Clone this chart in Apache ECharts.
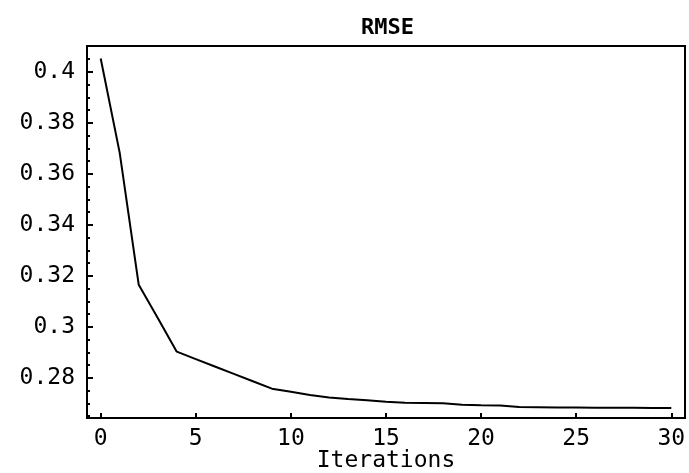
<!DOCTYPE html>
<html>
<head>
<meta charset="utf-8">
<title>RMSE</title>
<script src="https://cdn.jsdelivr.net/npm/echarts@6/dist/echarts.min.js"></script>
<style>
  html, body { margin: 0; padding: 0; background: #fff; }
  #chart { width: 689px; height: 473px; }
</style>
</head>
<body>
<div id="chart"></div>
<script>
  const iterations = [0, 1, 2, 3, 4, 5, 6, 7, 8, 9, 10, 11, 12, 13, 14, 15,
    16, 17, 18, 19, 20, 21, 22, 23, 24, 25, 26, 27, 28, 29, 30]
  const rmse = [0.4052, 0.3682, 0.3165, 0.3035, 0.2903, 0.2874, 0.2845, 0.2816,
    0.2787, 0.2758, 0.2746, 0.2733, 0.2723, 0.2717, 0.2713, 0.2707, 0.2703,
    0.2702, 0.2701, 0.2695, 0.2693, 0.2692, 0.2686, 0.2685, 0.2684, 0.2684,
    0.2683, 0.2683, 0.2683, 0.2682, 0.2682]

  const xTicks = [0, 5, 10, 15, 20, 25, 30]
  const yTicks = [0.28, 0.3, 0.32, 0.34, 0.36, 0.38, 0.4]
  const yMinorTicks = [0.265, 0.27, 0.275, 0.285, 0.29, 0.295, 0.305, 0.31, 0.315,
    0.325, 0.33, 0.335, 0.345, 0.35, 0.355, 0.365, 0.37, 0.375, 0.385, 0.39,
    0.395, 0.405]

  const font = 'DejaVu Sans Mono'

  const chart = echarts.init(document.getElementById('chart'), null, { renderer: 'canvas' })

  chart.setOption({
    animation: false,
    backgroundColor: '#fff',
    title: {
      text: 'RMSE',
      left: 356,
      top: 12,
      textStyle: { fontFamily: font, fontSize: 22, fontWeight: 'bold', color: '#000' }
    },
    grid: {
      left: 87,
      top: 46,
      width: 598,
      height: 372,
      outerBoundsMode: 'none',
      show: true,
      borderColor: '#000',
      borderWidth: 2,
      backgroundColor: 'transparent'
    },
    xAxis: {
      type: 'value',
      min: -0.72,
      max: 30.72,
      name: 'Iterations',
      nameLocation: 'middle',
      nameGap: 32,
      nameMoveOverlap: false,
      nameTextStyle: { fontFamily: font, fontSize: 23, color: '#000' },
      axisLine: { onZero: false, lineStyle: { color: '#000', width: 2 } },
      axisTick: { inside: true, length: 5, customValues: xTicks, lineStyle: { color: '#000', width: 2 } },
      axisLabel: { customValues: xTicks, margin: 10, fontFamily: font, fontSize: 23, color: '#000' },
      splitLine: { show: false }
    },
    yAxis: [{
      type: 'value',
      min: 0.2643,
      max: 0.4101,
      axisLine: { onZero: false, lineStyle: { color: '#000', width: 2 } },
      axisTick: { inside: true, length: 6, customValues: yTicks, lineStyle: { color: '#000', width: 2 } },
      axisLabel: {
        customValues: yTicks,
        margin: 12,
        fontFamily: font,
        fontSize: 23,
        color: '#000',
        formatter: v => String(+v.toFixed(2))
      },
      splitLine: { show: false }
    }, {
      // minor ticks only
      type: 'value',
      position: 'left',
      offset: 0,
      min: 0.2643,
      max: 0.4101,
      axisLine: { show: false, onZero: false },
      axisTick: { show: true, inside: true, length: 3, customValues: yMinorTicks, lineStyle: { color: '#000', width: 2 } },
      axisLabel: { show: false },
      splitLine: { show: false }
    }],
    series: [{
      type: 'line',
      yAxisIndex: 0,
      data: iterations.map((x, i) => [x, rmse[i]]),
      showSymbol: false,
      lineStyle: { color: '#000', width: 2 }
    }]
  })
</script>
</body>
</html>
